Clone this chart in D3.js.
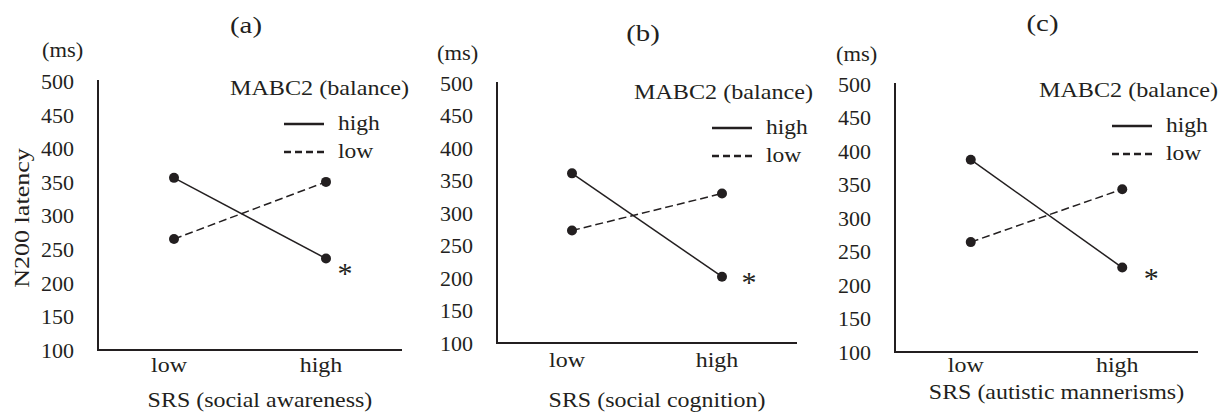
<!DOCTYPE html>
<html>
<head>
<meta charset="utf-8">
<script src="https://cdn.jsdelivr.net/npm/d3@7"></script>
<style>
  body { margin: 0; background: #fff; }
  svg text { font-family: "Liberation Serif", "Times New Roman", serif; fill: #231f20; }
</style>
</head>
<body>
<svg width="1226" height="415"></svg>
<script>
// --- data ---
const categories = ["low", "high"];
const yTicks = [100, 150, 200, 250, 300, 350, 400, 450, 500];
const panelTitles = ["(a)", "(b)", "(c)"];
const xLabels = ["SRS (social awareness)", "SRS (social cognition)", "SRS (autistic mannerisms)"];
const seriesNames = ["high", "low"];
// N200 latency (ms) for MABC2 balance high / low group
const highA = [356, 236], lowA = [265, 350];
const highB = [361, 202], lowB = [273, 330];
const highC = [387, 226], lowC = [264, 343];
const sigMark = "*";

// --- layout (pixels) ---
const panels = [
  { left: 98,  right: 402,  top: 81, bottom: 350, titleY: 25, xLabY: 400, catY: 365, msX: 42,  msY: 50, legRight: 409, legY: 88, legLineX: 284, ast: [19, 10], high: highA, low: lowA },
  { left: 497, right: 797,  top: 83, bottom: 343, titleY: 33, xLabY: 400, catY: 360, msX: 437, msY: 53, legRight: 813, legY: 92, legLineX: 712, ast: [27, 1],  high: highB, low: lowB },
  { left: 895, right: 1198, top: 84, bottom: 352, titleY: 23, xLabY: 392, catY: 365, msX: 836, msY: 54, legRight: 1218, legY: 90, legLineX: 1112, ast: [29, 6], high: highC, low: lowC }
];

const svg = d3.select("svg");
const ink = "#231f20";
const fs = 21;

// widen text a bit, the source font runs wider than Times
function stretch(sel, k) {
  sel.each(function () {
    const w = this.getComputedTextLength();
    this.setAttribute("textLength", w * k);
    this.setAttribute("lengthAdjust", "spacingAndGlyphs");
  });
  return sel;
}

panels.forEach((p, i) => {
  const g = svg.append("g");

  const x = d3.scalePoint().domain(categories).range([p.left, p.right]).padding(0.5);
  const y = d3.scaleLinear().domain([100, 500]).range([p.bottom, p.top]);

  // y axis: labels only + plain line
  const yAxis = g.append("g")
    .attr("transform", `translate(${p.left},0)`)
    .call(d3.axisLeft(y).tickValues(yTicks).tickSize(0).tickPadding(24));
  yAxis.select(".domain").remove();
  yAxis.selectAll("text")
    .style("font-size", "22px")
    .attr("dy", "0.34em")
    .attr("fill", ink);

  g.append("line")
    .attr("x1", p.left).attr("x2", p.left)
    .attr("y1", p.top - 1).attr("y2", p.bottom)
    .attr("stroke", ink).attr("stroke-width", 2);

  // x axis
  g.append("line")
    .attr("x1", p.left - 1).attr("x2", p.right)
    .attr("y1", p.bottom).attr("y2", p.bottom)
    .attr("stroke", ink).attr("stroke-width", 2);

  const cats = g.selectAll("text.cat")
    .data(categories)
    .join("text")
    .attr("class", "cat")
    .attr("x", d => x(d) - 5)
    .attr("y", p.catY)
    .attr("dy", "0.35em")
    .attr("text-anchor", "middle")
    .style("font-size", fs + "px")
    .text(d => d);
  stretch(cats, 1.14);

  stretch(g.append("text")
    .attr("x", (p.left + p.right) / 2 + 10)
    .attr("y", p.xLabY)
    .attr("dy", "0.35em")
    .attr("text-anchor", "middle")
    .style("font-size", fs + "px")
    .text(xLabels[i]), 1.14);

  // panel title
  stretch(g.append("text")
    .attr("x", (p.left + p.right) / 2 - 4)
    .attr("y", p.titleY)
    .attr("dy", "0.35em")
    .attr("text-anchor", "middle")
    .style("font-size", "24px")
    .text(panelTitles[i]), 1.2);

  // unit
  stretch(g.append("text")
    .attr("x", p.msX)
    .attr("y", p.msY)
    .attr("dy", "0.35em")
    .style("font-size", fs + "px")
    .text("(ms)"), 1.07);

  // series
  const series = [
    { name: seriesNames[0], values: p.high, dash: null },
    { name: seriesNames[1], values: p.low, dash: "8,4" }
  ];
  const line = d3.line().x((d, j) => x(categories[j])).y(d => y(d));

  series.forEach(s => {
    g.append("path")
      .datum(s.values)
      .attr("d", line)
      .attr("fill", "none")
      .attr("stroke", ink)
      .attr("stroke-width", 1.5)
      .attr("stroke-dasharray", s.dash);
    g.selectAll(null)
      .data(s.values)
      .join("circle")
      .attr("cx", (d, j) => x(categories[j]))
      .attr("cy", d => y(d))
      .attr("r", 5)
      .attr("fill", ink);
  });

  // significance mark next to high group at high SRS
  g.append("text")
    .attr("x", x(categories[1]) + p.ast[0])
    .attr("y", y(p.high[1]) + p.ast[1])
    .attr("dy", "0.48em")
    .attr("text-anchor", "middle")
    .style("font-size", "30px")
    .text(sigMark);

  // legend
  stretch(g.append("text")
    .attr("x", p.legRight)
    .attr("y", p.legY)
    .attr("dy", "0.35em")
    .attr("text-anchor", "end")
    .style("font-size", fs + "px")
    .text("MABC2 (balance)"), 1.15);

  series.forEach((s, j) => {
    const ly = p.legY + 36 + j * 28;
    g.append("line")
      .attr("x1", p.legLineX).attr("x2", p.legLineX + 40)
      .attr("y1", ly).attr("y2", ly)
      .attr("stroke", ink)
      .attr("stroke-width", 2.5)
      .attr("stroke-dasharray", s.dash ? "7,4" : null);
    stretch(g.append("text")
      .attr("x", p.legLineX + 54)
      .attr("y", ly)
      .attr("dy", "0.3em")
      .style("font-size", fs + "px")
      .text(s.name), 1.12);
  });
});

// shared y axis title on the first panel
stretch(svg.append("text")
  .attr("transform", "translate(22,218) rotate(-90)")
  .attr("dy", "0.35em")
  .attr("text-anchor", "middle")
  .style("font-size", fs + "px")
  .text("N200 latency"), 1.24);
</script>
</body>
</html>
